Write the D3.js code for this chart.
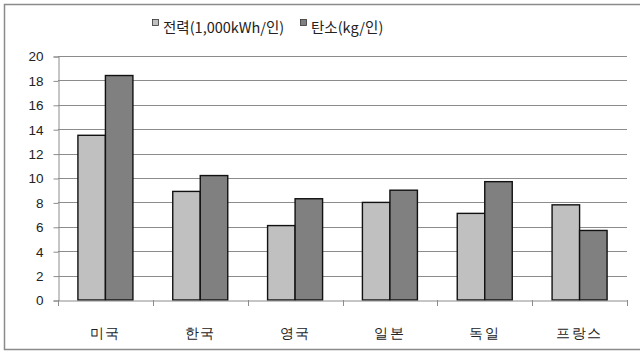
<!DOCTYPE html>
<html>
<head>
<meta charset="utf-8">
<script src="https://cdn.jsdelivr.net/npm/d3@7/dist/d3.min.js"></script>
<style>
  body { margin: 0; background: #fff; }
  svg { display: block; font-family: "Noto Sans CJK KR", "Noto Sans", sans-serif; }
</style>
</head>
<body>
<div id="chart"></div>
<script>
// data
const countries = ["미국", "한국", "영국", "일본", "독일", "프랑스"];
const power = [13.5, 8.9, 6.1, 8.0, 7.1, 7.8];    // 전력(1,000kWh/인)
const carbon = [18.4, 10.2, 8.3, 9.0, 9.7, 5.7];  // 탄소(kg/인)
const seriesNames = ["전력(1,000kWh/인)", "탄소(kg/인)"];
const seriesColors = ["#c0c0c0", "#808080"];
const yTicks = [0, 2, 4, 6, 8, 10, 12, 14, 16, 18, 20];

const width = 640, height = 355;
const margin = {top: 56, right: 13, bottom: 55, left: 58};

const svg = d3.select("#chart").append("svg")
    .attr("width", width)
    .attr("height", height);

// outer frame (right edge is cut off in the original)
svg.append("path")
    .attr("d", "M640,4.5 H4.5 V349.5 H640")
    .attr("fill", "none")
    .attr("stroke", "#8a8a8a")
    .attr("stroke-width", 1.5);

const x0 = d3.scaleBand()
    .domain(countries)
    .range([margin.left, width - margin.right])
    .paddingInner(0.42)
    .paddingOuter(0.21);

const x1 = d3.scaleBand()
    .domain([0, 1])
    .range([0, x0.bandwidth()]);

const xAxisScale = d3.scaleBand()
    .domain(countries)
    .range([margin.left, width - margin.right]);

const y = d3.scaleLinear()
    .domain([0, 20])
    .range([height - margin.bottom, margin.top]);

// gridlines
svg.append("g")
    .selectAll("line")
    .data(yTicks.slice(1))
    .enter()
    .append("line")
    .attr("x1", margin.left)
    .attr("x2", width - margin.right)
    .attr("y1", d => Math.round(y(d)) + 0.5)
    .attr("y2", d => Math.round(y(d)) + 0.5)
    .attr("stroke", "#8c8c8c")
    .attr("stroke-width", 1.2);

// y axis
const yAxis = svg.append("g")
    .attr("transform", `translate(${margin.left + 0.5},0.5)`)
    .call(d3.axisLeft(y).tickValues(yTicks).tickSize(5).tickPadding(10));
yAxis.select(".domain").attr("stroke", "#8c8c8c");
yAxis.selectAll(".tick line").attr("stroke", "#8c8c8c");
yAxis.selectAll("text").attr("font-size", 13.5).attr("fill", "#222");

// bars
const groups = svg.append("g")
    .selectAll("g")
    .data(countries)
    .enter()
    .append("g")
    .attr("transform", d => `translate(${x0(d)},0)`);

groups.selectAll("rect")
    .data((d, i) => [power[i], carbon[i]])
    .enter()
    .append("rect")
    .attr("x", (d, j) => x1(j))
    .attr("y", d => y(d))
    .attr("width", x1.bandwidth())
    .attr("height", d => y(0) - y(d))
    .attr("fill", (d, j) => seriesColors[j])
    .attr("stroke", "#111")
    .attr("stroke-width", 1.4);

// x axis
const xAxis = svg.append("g")
    .attr("transform", `translate(0,${y(0) + 0.5})`)
    .call(d3.axisBottom(xAxisScale).tickSize(0).tickPadding(28));
xAxis.select(".domain").attr("stroke", "#8c8c8c");
xAxis.selectAll("text")
    .attr("font-size", 14)
    .attr("letter-spacing", 1.5)
    .attr("fill", "#222");

// category tick marks at band boundaries
svg.append("g")
    .selectAll("line")
    .data(d3.range(countries.length + 1))
    .enter()
    .append("line")
    .attr("x1", i => Math.round(margin.left + i * xAxisScale.step()) + 0.5)
    .attr("x2", i => Math.round(margin.left + i * xAxisScale.step()) + 0.5)
    .attr("y1", y(0))
    .attr("y2", y(0) + 6)
    .attr("stroke", "#8c8c8c");

// legend
const legendX = [152, 300];
const legend = svg.append("g")
    .selectAll("g")
    .data(seriesNames)
    .enter()
    .append("g")
    .attr("transform", (d, i) => `translate(${legendX[i]},0)`);

legend.append("rect")
    .attr("x", 0.5)
    .attr("y", 19.5)
    .attr("width", 6)
    .attr("height", 6)
    .attr("fill", (d, i) => seriesColors[i])
    .attr("stroke", "#333")
    .attr("stroke-width", 0.8);

legend.append("text")
    .attr("x", 11)
    .attr("y", 33)
    .attr("font-size", 14.5)
    .attr("fill", "#222")
    .text(d => d);
</script>
</body>
</html>
